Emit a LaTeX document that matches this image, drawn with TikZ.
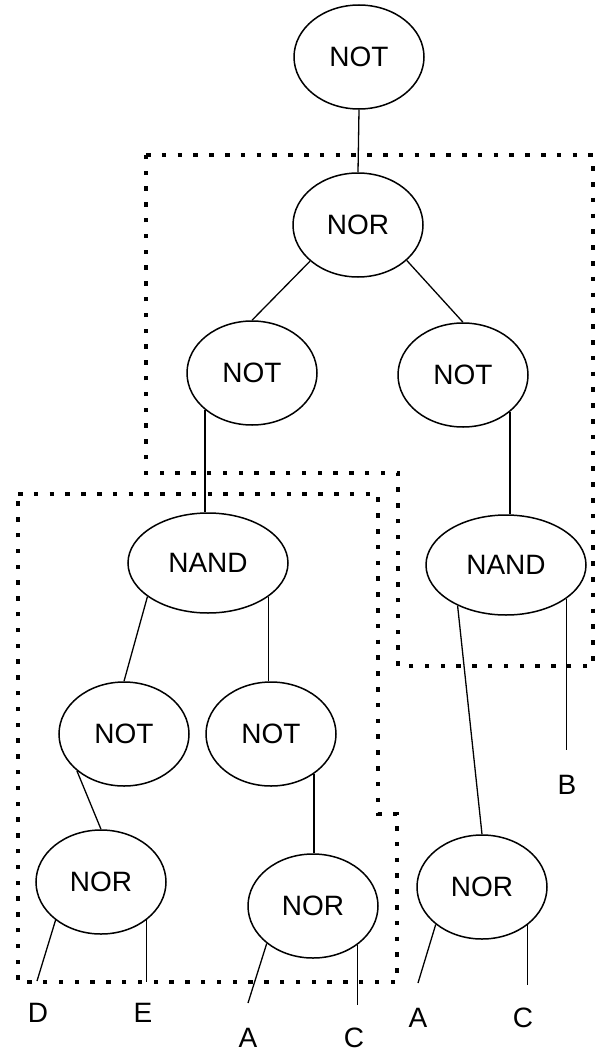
\documentclass[tikz,border=0pt]{standalone}
\usepackage{fontspec}
\setmainfont{Liberation Sans}
\usetikzlibrary{shapes.geometric}
\begin{document}
\begin{tikzpicture}[x=1pt,y=-1pt,
  gate/.style={draw, ellipse, line width=1.5pt, inner sep=0pt,
    minimum width=130pt, minimum height=104pt,
    font=\fontsize{28}{28}\selectfont},
  widegate/.style={gate, minimum width=160pt, minimum height=100pt},
  wire/.style={line width=1.3pt},
  leaf/.style={inner sep=0pt, font=\fontsize{28}{28}\selectfont},
  grp/.style={line width=4.5pt, line cap=butt, dash pattern=on 4.5pt off 11.3pt}]
\useasboundingbox (0,0) rectangle (597,1057);

% grouping boxes
\draw[grp] (146,155) -- (593,155) -- (593,666) -- (398,666) -- (398,473)
  -- (146,473) -- cycle;
\draw[grp] (18,494) -- (378,494) -- (378,814) -- (397,814) -- (397,982)
  -- (18,982) -- cycle;

% gates
\node[gate] (notTop) at (359,57) {NOT};
\node[gate] (nor1) at (358,225) {NOR};
\node[gate] (notL) at (252,373) {NOT};
\node[gate] (notR) at (463,375) {NOT};
\node[widegate] (nandL) at (208,563) {NAND};
\node[widegate] (nandR) at (506,565) {NAND};
\node[gate] (notLL) at (124,734) {NOT};
\node[gate] (notLR) at (271,734) {NOT};
\node[gate] (norL) at (101,882) {NOR};
\node[gate] (norM) at (313,906) {NOR};
\node[gate] (norR) at (482,887) {NOR};

% inputs
\coordinate (bEnd) at (569,750);
\coordinate (dEnd) at (37,981);
\coordinate (eEnd) at (143,982);
\coordinate (a1End) at (248,1003);
\coordinate (c1End) at (354,1005);
\coordinate (a2End) at (418,983);
\coordinate (c2End) at (524,985);
\node[leaf] (lblB) at (567,785) {B};
\node[leaf] (lblD) at (38,1013) {D};
\node[leaf] (lblE) at (143,1013) {E};
\node[leaf] (lblA1) at (248,1038) {A};
\node[leaf] (lblC1) at (354,1038) {C};
\node[leaf] (lblA2) at (418,1018) {A};
\node[leaf] (lblC2) at (523,1018) {C};

% wires
\draw[wire] (notTop.south) -- (nor1.north);
\draw[wire] (nor1.217) -- (notL.north);
\draw[wire] (nor1.324) -- (notR.north);
\draw[wire] (notL.218) -- (notL.218 |- nandL.north);
\draw[wire] (notR.322) -- (notR.322 |- nandR.north);
\draw[wire] (nandL.209) -- (notLL.north);
\draw[wire] (nandL.331) -- (nandL.331 |- notLR.north);
\draw[wire] (nandR.220) -- (norR.north);
\draw[wire] (nandR.331) -- (nandR.331 |- bEnd);
\draw[wire] (notLL.218) -- (norL.north);
\draw[wire] (notLR.317) -- (notLR.317 |- norM.north);
\draw[wire] (norL.220) -- (dEnd);
\draw[wire] (norL.320) -- (norL.320 |- eEnd);
\draw[wire] (norM.219) -- (a1End);
\draw[wire] (norM.319) -- (norM.319 |- c1End);
\draw[wire] (norR.219) -- (a2End);
\draw[wire] (norR.320) -- (norR.320 |- c2End);
\end{tikzpicture}
\end{document}
